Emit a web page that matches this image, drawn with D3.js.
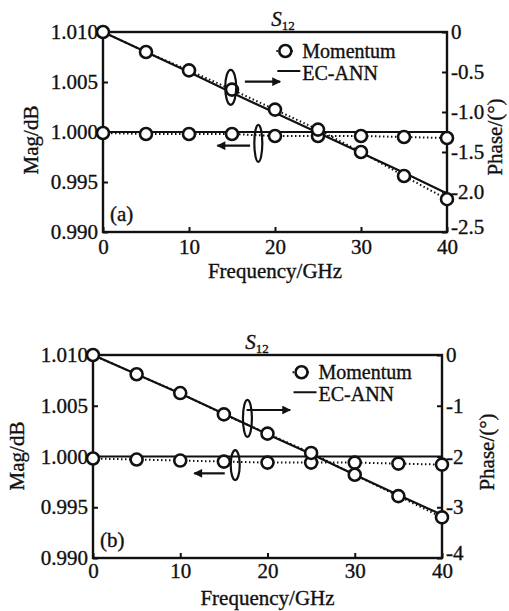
<!DOCTYPE html>
<html>
<head>
<meta charset="utf-8">
<script src="https://cdn.jsdelivr.net/npm/d3@7"></script>
<style>
    body { margin: 0; background: #fff; }
    svg { display: block; }
    text { font-family: 'Liberation Serif', 'Times New Roman', serif; fill: #111; stroke: #111; stroke-width: 0.35px; }
</style>
</head>
<body>
<svg id="chart" width="509" height="611"></svg>
<script>
// Frequency points (GHz)
const freq = [0, 5, 10, 15, 20, 25, 30, 35, 40];

// Panel (a)
const magMomentumA = [0.9999, 0.9998, 0.9998, 0.9998, 0.9996, 0.9996, 0.9996, 0.9995, 0.9994];
const magEcAnnA = [1.0, 1.0, 1.0, 1.0, 1.0, 1.0, 1.0, 1.0, 1.0];
const phaseMomentumA = [0, -0.25, -0.48, -0.72, -0.97, -1.22, -1.5, -1.8, -2.09];
const phaseEcAnnA = [0, -0.25, -0.5, -0.76, -1.01, -1.26, -1.51, -1.76, -2.02];

// Panel (b)
const magMomentumB = [0.9998, 0.9997, 0.9996, 0.9995, 0.9994, 0.9994, 0.9994, 0.9993, 0.9992];
const magEcAnnB = [1.0, 1.0, 1.0, 1.0, 1.0, 1.0, 1.0, 1.0, 1.0];
const phaseMomentumB = [0, -0.38, -0.75, -1.17, -1.55, -1.93, -2.36, -2.78, -3.2];
const phaseEcAnnB = [0, -0.38, -0.76, -1.16, -1.56, -1.95, -2.36, -2.76, -3.15];

// Ticks
const freqTicks = [0, 10, 20, 30, 40];
const magTicks = [0.990, 0.995, 1.000, 1.005, 1.010];
const magTickLabels = ['0.990', '0.995', '1.000', '1.005', '1.010'];
const phaseTicksA = [0, -0.5, -1.0, -1.5, -2.0, -2.5];
const phaseTickLabelsA = ['0', '-0.5', '-1.0', '-1.5', '-2.0', '-2.5'];
const phaseTicksB = [0, -1, -2, -3, -4];
const phaseTickLabelsB = ['0', '-1', '-2', '-3', '-4'];

const svg = d3.select('#chart');
const fontSize = 21;

function drawPanel(cfg) {
    const x = d3.scaleLinear().domain([0, 40]).range([cfg.left, cfg.right]);
    const yMag = d3.scaleLinear().domain([0.990, 1.010]).range([cfg.bottom, cfg.top]);
    const yPhase = d3.scaleLinear().domain(cfg.phaseDomain).range([cfg.bottom, cfg.top]);
    const g = svg.append('g');

    // axes (ticks point inward)
    const xAxis = d3.axisBottom(x).tickValues(freqTicks).tickSize(-5).tickSizeOuter(0).tickPadding(cfg.xPad);
    const yAxis = d3.axisLeft(yMag).tickValues(magTicks).tickSize(-5).tickSizeOuter(0).tickPadding(5)
        .tickFormat((d, i) => magTickLabels[i]);
    const y2Axis = d3.axisRight(yPhase).tickValues(cfg.phaseTicks).tickSize(-5).tickSizeOuter(0).tickPadding(4)
        .tickFormat((d, i) => cfg.phaseLabels[i]);

    const axes = [
        g.append('g').attr('transform', `translate(0, ${cfg.bottom})`).call(xAxis),
        g.append('g').attr('transform', `translate(${cfg.left}, 0)`).call(yAxis),
        g.append('g').attr('transform', `translate(${cfg.right}, 0)`).call(y2Axis)
    ];
    axes.forEach((ax) => {
        ax.select('.domain').remove();
        ax.selectAll('line').attr('stroke', '#111').attr('stroke-width', 2);
        ax.selectAll('text')
            .style('font-family', "'Liberation Serif', 'Times New Roman', serif")
            .style('font-size', fontSize + 'px')
            .attr('fill', '#111');
    });
    // lowest phase label sits a little higher, clear of the "40"
    axes[2].selectAll('text')
        .filter((d) => d === cfg.phaseDomain[0])
        .attr('dy', '0.05em');

    // frame
    g.append('rect')
        .attr('x', cfg.left)
        .attr('y', cfg.top)
        .attr('width', cfg.right - cfg.left)
        .attr('height', cfg.bottom - cfg.top)
        .attr('fill', 'none')
        .attr('stroke', '#111')
        .attr('stroke-width', 2.4);

    const magLine = (vals) => d3.line().x((d, i) => x(freq[i])).y((d) => yMag(d))(vals);
    const phaseLine = (vals) => d3.line().x((d, i) => x(freq[i])).y((d) => yPhase(d))(vals);

    // EC-ANN solid lines
    g.append('path').attr('d', magLine(cfg.magEc))
        .attr('fill', 'none').attr('stroke', '#111').attr('stroke-width', 2.2);
    g.append('path').attr('d', phaseLine(cfg.phaseEc))
        .attr('fill', 'none').attr('stroke', '#111').attr('stroke-width', 2.2);

    // Momentum dotted lines
    g.append('path').attr('d', magLine(cfg.magMom))
        .attr('fill', 'none').attr('stroke', '#111').attr('stroke-width', 2)
        .attr('stroke-dasharray', '1.5,2.5');
    g.append('path').attr('d', phaseLine(cfg.phaseMom))
        .attr('fill', 'none').attr('stroke', '#111').attr('stroke-width', 2)
        .attr('stroke-dasharray', '1.5,2.5');

    // Momentum circles
    g.selectAll('circle.mag')
        .data(cfg.magMom)
        .enter()
        .append('circle')
        .attr('class', 'mag')
        .attr('cx', (d, i) => x(freq[i]))
        .attr('cy', (d) => yMag(d))
        .attr('r', 6)
        .attr('fill', '#fff')
        .attr('stroke', '#111')
        .attr('stroke-width', 2.6);
    g.selectAll('circle.phase')
        .data(cfg.phaseMom)
        .enter()
        .append('circle')
        .attr('class', 'phase')
        .attr('cx', (d, i) => x(freq[i]))
        .attr('cy', (d) => yPhase(d))
        .attr('r', 6)
        .attr('fill', '#fff')
        .attr('stroke', '#111')
        .attr('stroke-width', 2.6);

    // ellipses marking which axis each curve belongs to
    cfg.ellipses.forEach((e) => {
        g.append('ellipse')
            .attr('cx', x(e.f))
            .attr('cy', yMag(e.v))
            .attr('rx', e.rx)
            .attr('ry', e.ry)
            .attr('fill', 'none')
            .attr('stroke', '#111')
            .attr('stroke-width', 2.2);
    });
    cfg.arrows.forEach((a) => {
        g.append('line')
            .attr('x1', x(a.f1))
            .attr('x2', x(a.f2))
            .attr('y1', yMag(a.v))
            .attr('y2', yMag(a.v))
            .attr('stroke', '#111')
            .attr('stroke-width', 2.2)
            .attr('marker-end', 'url(#arrow)');
    });

    // legend
    const lx = x(cfg.legendF);
    const ly = yMag(cfg.legendV);
    g.append('line')
        .attr('x1', lx - 9).attr('x2', lx + 10)
        .attr('y1', ly).attr('y2', ly)
        .attr('stroke', '#111').attr('stroke-width', 2)
        .attr('stroke-dasharray', '1.5,3.5');
    g.append('circle')
        .attr('cx', lx).attr('cy', ly).attr('r', 6)
        .attr('fill', '#fff').attr('stroke', '#111').attr('stroke-width', 2.6);
    g.append('text')
        .attr('x', lx + 17).attr('y', ly + 7)
        .style('font-size', '20px')
        .text('Momentum');
    g.append('line')
        .attr('x1', lx - 8).attr('x2', lx + 15)
        .attr('y1', ly + 20).attr('y2', ly + 20)
        .attr('stroke', '#111').attr('stroke-width', 2);
    g.append('text')
        .attr('x', lx + 17).attr('y', ly + 29)
        .style('font-size', '20px')
        .text('EC-ANN');

    // title S12
    const title = g.append('text')
        .attr('x', cfg.titleX)
        .attr('y', cfg.top - 6)
        .attr('text-anchor', 'middle')
        .style('font-size', fontSize + 'px');
    title.append('tspan').style('font-style', 'italic').text('S');
    title.append('tspan').attr('dy', 4).style('font-size', '13px').text('12');

    // panel tag
    g.append('text')
        .attr('x', cfg.left + 7)
        .attr('y', cfg.bottom - 11)
        .style('font-size', fontSize + 'px')
        .text(cfg.tag);

    // axis titles
    g.append('text')
        .attr('x', (cfg.left + cfg.right) / 2)
        .attr('y', cfg.xLabelY)
        .attr('text-anchor', 'middle')
        .style('font-size', fontSize + 'px')
        .text('Frequency/GHz');
    g.append('text')
        .attr('transform', `translate(${cfg.magLabelX}, ${cfg.magLabelY}) rotate(-90)`)
        .attr('text-anchor', 'middle')
        .style('font-size', fontSize + 'px')
        .text('Mag/dB');
    g.append('text')
        .attr('transform', `translate(${cfg.phaseLabelX}, ${cfg.phaseLabelY}) rotate(-90)`)
        .attr('text-anchor', 'middle')
        .style('font-size', fontSize + 'px')
        .text('Phase/(°)');
}

svg.append('defs').append('marker')
    .attr('id', 'arrow')
    .attr('viewBox', '0 0 10 10')
    .attr('refX', 9)
    .attr('refY', 5)
    .attr('markerWidth', 5)
    .attr('markerHeight', 4)
    .attr('markerUnits', 'strokeWidth')
    .attr('orient', 'auto')
    .append('path')
    .attr('d', 'M0,0 L10,5 L0,10 Z')
    .attr('fill', '#111');

drawPanel({
    left: 103, right: 447, top: 32, bottom: 232,
    phaseDomain: [-2.5, 0],
    phaseTicks: phaseTicksA,
    phaseLabels: phaseTickLabelsA,
    magMom: magMomentumA, magEc: magEcAnnA,
    phaseMom: phaseMomentumA, phaseEc: phaseEcAnnA,
    ellipses: [
        {f: 14.85, v: 1.00447, rx: 5.5, ry: 17.5},
        {f: 18.06, v: 0.99887, rx: 4, ry: 18.5}
    ],
    arrows: [
        {f1: 16.5, f2: 20.6, v: 1.00503},
        {f1: 17.1, f2: 13.3, v: 0.99863}
    ],
    legendF: 21.2, legendV: 1.0081,
    titleX: 283,
    tag: '(a)',
    xPad: 7,
    xLabelY: 278,
    magLabelX: 38, magLabelY: 140,
    phaseLabelX: 502, phaseLabelY: 137
});

drawPanel({
    left: 93, right: 442, top: 355, bottom: 558,
    phaseDomain: [-4, 0],
    phaseTicks: phaseTicksB,
    phaseLabels: phaseTickLabelsB,
    magMom: magMomentumB, magEc: magEcAnnB,
    phaseMom: phaseMomentumB, phaseEc: phaseEcAnnB,
    ellipses: [
        {f: 17.7, v: 1.00376, rx: 4.5, ry: 18.5},
        {f: 16.3, v: 0.99916, rx: 4.5, ry: 15}
    ],
    arrows: [
        {f1: 17.6, f2: 22.6, v: 1.00458},
        {f1: 15.1, f2: 11.6, v: 0.99834}
    ],
    legendF: 23.9, legendV: 1.0083,
    titleX: 257,
    tag: '(b)',
    xPad: 5,
    xLabelY: 605,
    magLabelX: 24, magLabelY: 456,
    phaseLabelX: 494, phaseLabelY: 452
});
</script>
</body>
</html>
